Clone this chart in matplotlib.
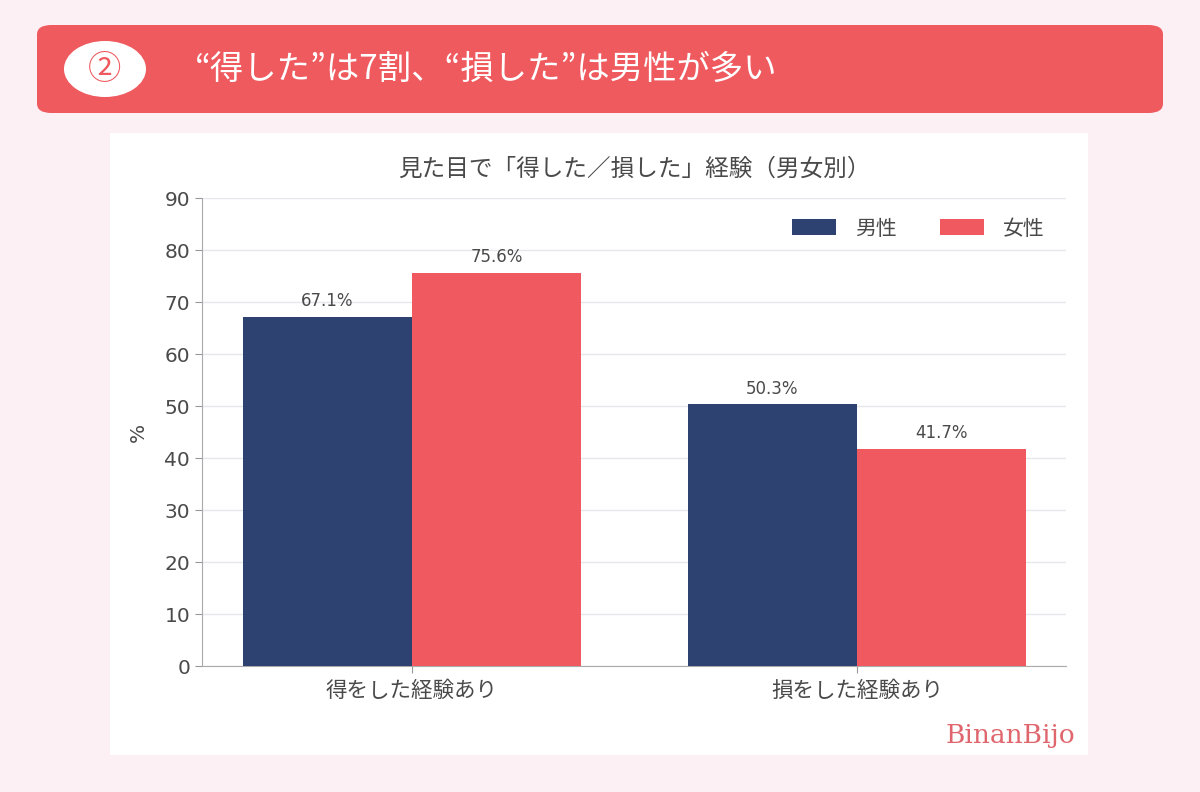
import matplotlib
matplotlib.use("Agg")
import matplotlib.pyplot as plt
from matplotlib.patches import FancyBboxPatch, Ellipse, Rectangle
import numpy as np

plt.rcParams['font.family'] = ['Noto Sans CJK JP', 'DejaVu Sans']
num_font = ['DejaVu Sans', 'Noto Sans CJK JP']

categories = ["得をした経験あり", "損をした経験あり"]
series_names = ["男性", "女性"]
male = [67.1, 50.3]
female = [75.6, 41.7]
yticks = [0, 10, 20, 30, 40, 50, 60, 70, 80, 90]
banner_title = "“得した”は7割、“損した”は男性が多い"
chart_title = "見た目で「得した／損した」経験（男女別）"

navy = "#2e4271"
red = "#f0595f"
text_col = "#4a4a4a"

fig = plt.figure(figsize=(12, 7.92), dpi=100)
fig.patch.set_facecolor("#fcf0f4")

# banner
banner = FancyBboxPatch((37/1200, 1-113/792), (1163-37)/1200, (113-25)/792,
                        boxstyle="round,pad=0,rounding_size=0.012",
                        transform=fig.transFigure, facecolor="#ef5a5f",
                        edgecolor="none", zorder=-2)
fig.patches.append(banner)
ell = Ellipse((105/1200, 1-69/792), 82/1200, 56/792, transform=fig.transFigure,
              facecolor="white", edgecolor="none", zorder=-1)
fig.patches.append(ell)
fig.text(105/1200, 1-69/792, "②", ha="center", va="center", fontsize=24,
         color="#ef5a5f", zorder=2)
fig.text(195/1200, 1-69/792, banner_title, ha="left", va="center", fontsize=24,
         color="white")

# white panel
panel = Rectangle((110/1200, 1-755/792), (1088-110)/1200, (755-133)/792,
                  transform=fig.transFigure, facecolor="white", edgecolor="none", zorder=-2)
fig.patches.append(panel)

ax = fig.add_axes([202/1200, 1-666/792, (1066-202)/1200, (666-198)/792])
ax.set_zorder(1)
ax.set_facecolor("white")
x = np.arange(len(categories))
w = 0.38
b1 = ax.bar(x - w/2, male, w, color=navy, label=series_names[0], zorder=3)
b2 = ax.bar(x + w/2, female, w, color=red, label=series_names[1], zorder=3)
for bars, vals in ((b1, male), (b2, female)):
    for rect, v in zip(bars, vals):
        ax.text(rect.get_x() + rect.get_width()/2, v + 1.3, f"{v}%",
                ha="center", va="bottom", fontsize=12, color=text_col, zorder=4,
                family=num_font)

ax.set_xlim(-0.472, 1.470)
ax.set_ylim(0, 90)
ax.set_yticks(yticks)
ax.set_xticks(x)
ax.set_xticklabels(categories, fontsize=15.5, color=text_col)
ax.tick_params(axis='y', labelsize=14.5, colors="#999999", labelcolor=text_col, length=5)
for lab in ax.get_yticklabels():
    lab.set_family(num_font)
ax.tick_params(axis='x', colors="#999999", labelcolor=text_col, length=5, pad=5)
ax.grid(axis='y', color="#e6e6ee", linewidth=1, zorder=0)
ax.set_axisbelow(True)
for s in ("top", "right"):
    ax.spines[s].set_visible(False)
for s in ("left", "bottom"):
    ax.spines[s].set_color("#aaaaaa")
ax.set_ylabel("%", fontsize=14.5, color=text_col, labelpad=12, family=num_font)
ax.set_title(chart_title, fontsize=17, color=text_col, pad=16)

leg = ax.legend(loc="upper right", ncol=2, frameon=False, fontsize=15,
                handlelength=2.1, handleheight=0.8, columnspacing=2.1,
                handletextpad=0.9, bbox_to_anchor=(0.997, 0.998))
for t in leg.get_texts():
    t.set_color(text_col)

fig.text(1075/1200, 1-735/792, "BinanBijo", ha="right", va="center",
         fontsize=19, color="#e0666e", family="DejaVu Serif")

fig.savefig("out.png", dpi=100, facecolor=fig.get_facecolor())
